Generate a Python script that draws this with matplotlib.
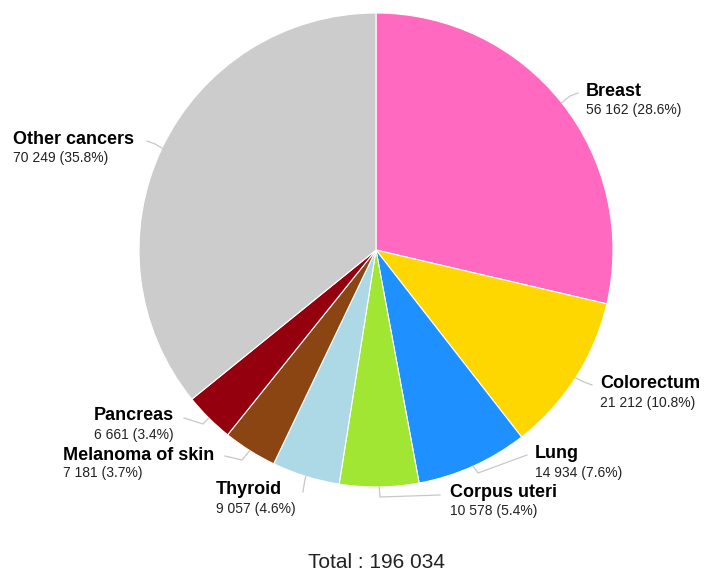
import math

import matplotlib

matplotlib.use("Agg")
import matplotlib.pyplot as plt

plt.rcParams["font.family"] = ["Liberation Sans", "DejaVu Sans"]

cancers = ["Breast", "Colorectum", "Lung", "Corpus uteri", "Thyroid",
           "Melanoma of skin", "Pancreas", "Other cancers"]
cases = [56162, 21212, 14934, 10578, 9057, 7181, 6661, 70249]
colors = ["#FF69C0", "#FFD700", "#1E90FF", "#A0E632", "#ADD8E6",
          "#8B4513", "#95000E", "#CCCCCC"]

# layout, in pixels of the 704x572 canvas: text left edge, title centre y,
# leader elbow and leader end
PX = 237.0
CX, CY = 376.0, 250.0
label_layout = [
    ((586, 92), (570, 96), (578, 93)),
    ((600, 384), (584, 382), (592, 385)),
    ((535, 454), (478, 473), (527, 455)),
    ((450, 493), (380, 497), (440, 495)),
    ((216, 490), (304, 485), (303, 492)),
    ((63, 455), (242, 460), (225, 456)),
    ((94, 416), (203, 424), (184, 418)),
    ((13, 140), (155, 144), (147, 141)),
]


def to_data(px, py):
    return (px - CX) / PX, (CY - py) / PX


def fmt(n):
    return f"{n:,}".replace(",", " ")


def main() -> None:
    total = sum(cases)
    fig = plt.figure(figsize=(7.04, 5.72), dpi=100)
    ax = fig.add_axes([0, 0, 1, 1])
    wedges, _ = ax.pie(cases, colors=colors, startangle=90, counterclock=False,
                       radius=1.0, wedgeprops=dict(edgecolor="white", linewidth=0.8))
    ax.set_xlim(-CX / PX, (704 - CX) / PX)
    ax.set_ylim(-(572 - CY) / PX, CY / PX)
    ax.set_aspect("auto")
    ax.axis("off")

    for w, name, n, (txt, elbow, end) in zip(wedges, cancers, cases, label_layout):
        mid = math.radians((w.theta1 + w.theta2) / 2)
        sx, sy = math.cos(mid), math.sin(mid)
        ex, ey = to_data(*elbow)
        tx, ty = to_data(*end)
        ax.plot([sx, ex, tx], [sy, ey, ty], color="#c8c8c8", lw=0.9,
                solid_joinstyle="round", zorder=1)
        lx, ly = to_data(*txt)
        ax.text(lx, ly, name, ha="left", va="center", fontsize=13, fontweight="bold")
        ax.text(lx, ly - 18.5 / PX, f"{fmt(n)} ({n / total * 100:.1f}%)",
                ha="left", va="center", fontsize=10, color="#222222")

    bx, by = to_data(376, 563)
    ax.text(bx, by, f"Total : {fmt(total)}", ha="center", va="center",
            fontsize=15, color="#222222")

    fig.savefig("out.png", dpi=100)
    plt.close(fig)


if __name__ == "__main__":
    main()
